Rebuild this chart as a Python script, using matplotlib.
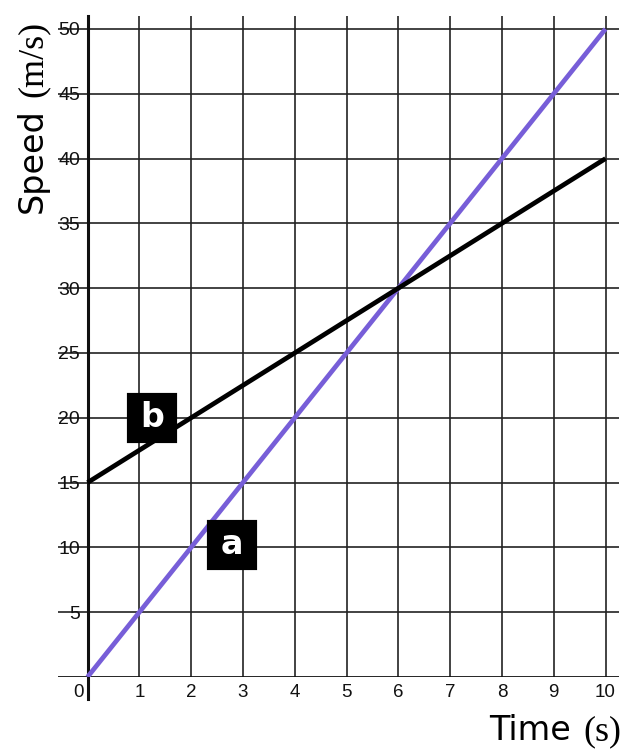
import numpy as np
import matplotlib
matplotlib.use("Agg")
import matplotlib.pyplot as plt
import matplotlib.transforms as mtransforms

# data
time_s = [0, 10]
speed_a = [0, 50]
speed_b = [15, 40]
x_ticks = list(range(0, 11))
y_ticks = list(range(5, 51, 5))
tag_a = (2.78, 10.2)
tag_b = (1.25, 20.0)

purple = "#775ed8"
grid_col = "#222222"

fig = plt.figure(figsize=(6.4, 7.54), dpi=100)
ax = fig.add_axes([58 / 640, 1 - 677 / 754, 561 / 640, 661 / 754])
ax.set_xlim(-0.57, 10.26)
ax.set_ylim(0, 51)

for s in ax.spines.values():
    s.set_visible(False)

ax.set_xticks(x_ticks)
ax.set_yticks(y_ticks)
ax.grid(True, color=grid_col, linewidth=1.2)
ax.set_axisbelow(True)
ax.tick_params(axis="both", length=0)
ax.tick_params(axis="y", pad=-16, labelsize=14)
ax.tick_params(axis="x", pad=5, labelsize=13.5)
for lab in ax.get_xticklabels() + ax.get_yticklabels():
    lab.set_fontfamily("Liberation Sans")
    lab.set_color("#111111")

# shift the "0" label to the left of the axis
lab0 = ax.get_xticklabels()[0]
lab0.set_horizontalalignment("right")
lab0.set_transform(lab0.get_transform() + mtransforms.ScaledTranslation(-4 / 100, 0, fig.dpi_scale_trans))

# axis lines
ax.axhline(0, color="#111111", linewidth=2.0, zorder=2)
ax.plot([0, 0], [51, -1.7], color="#111111", linewidth=2.2, clip_on=False, zorder=2)

# data lines
ax.plot(time_s, speed_a, color=purple, linewidth=3.4, solid_capstyle="butt", zorder=3)
ax.plot(time_s, speed_b, color="black", linewidth=3.4, solid_capstyle="butt", zorder=3)

# tags
for (tx, ty), letter in [(tag_a, "a"), (tag_b, "b")]:
    ax.plot(tx, ty, marker="s", markersize=33, color="black", markeredgewidth=3,
            markeredgecolor="black", zorder=4, solid_joinstyle="round")
    ax.text(tx, ty, letter, color="white", fontsize=24, fontweight="bold",
            family="DejaVu Sans", ha="center", va="center", zorder=5)

# axis titles
fig.text(489 / 640, 1 - 740 / 754, "Time", fontsize=24, family="DejaVu Sans",
         ha="left", va="baseline")
fig.text(621 / 640, 1 - 740 / 754, "(s)", fontsize=26, family="Liberation Serif",
         ha="right", va="baseline")
fig.text(42 / 640, 1 - 213 / 754, "Speed", fontsize=24, family="DejaVu Sans",
         rotation=90, rotation_mode="anchor", ha="left", va="baseline")
fig.text(42 / 640, 1 - 21 / 754, "(m/s)", fontsize=26, family="Liberation Serif",
         rotation=90, rotation_mode="anchor", ha="right", va="baseline")

fig.savefig("out.png", dpi=100)
